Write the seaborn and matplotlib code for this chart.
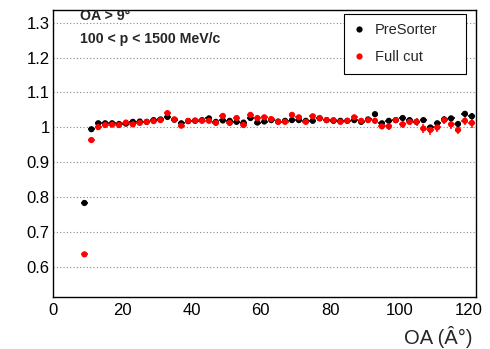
import matplotlib
matplotlib.use("Agg")
import numpy as np
import pandas as pd
import matplotlib.pyplot as plt
import seaborn as sns
from matplotlib.ticker import MultipleLocator, FuncFormatter

# ---------------- data ----------------
oa = list(range(9, 122, 2))

presorter = [0.784, 0.995, 1.012, 1.012, 1.012, 1.010, 1.011, 1.016, 1.017, 1.016,
             1.021, 1.023, 1.030, 1.022, 1.012, 1.018, 1.019, 1.021, 1.026, 1.016,
             1.020, 1.019, 1.016, 1.014, 1.027, 1.014, 1.017, 1.021, 1.017, 1.019,
             1.021, 1.021, 1.019, 1.019, 1.026, 1.021, 1.019, 1.019, 1.019, 1.021,
             1.016, 1.023, 1.038, 1.012, 1.019, 1.021, 1.027, 1.021, 1.016, 1.021,
             1.000, 1.012, 1.023, 1.026, 1.010, 1.039, 1.032]
presorter_err = [0.003, 0.002, 0.002, 0.002, 0.002, 0.002, 0.002, 0.002, 0.002, 0.002,
                 0.002, 0.002, 0.003, 0.002, 0.002, 0.002, 0.003, 0.003, 0.003, 0.003,
                 0.003, 0.003, 0.003, 0.003, 0.003, 0.003, 0.003, 0.003, 0.003, 0.003,
                 0.003, 0.003, 0.003, 0.003, 0.003, 0.003, 0.004, 0.004, 0.004, 0.004,
                 0.004, 0.004, 0.005, 0.005, 0.005, 0.005, 0.006, 0.006, 0.006, 0.007,
                 0.007, 0.007, 0.008, 0.008, 0.008, 0.009, 0.009]

fullcut = [0.637, 0.964, 1.001, 1.007, 1.008, 1.007, 1.014, 1.009, 1.013, 1.016,
           1.018, 1.021, 1.041, 1.023, 1.005, 1.019, 1.020, 1.019, 1.019, 1.013,
           1.033, 1.013, 1.027, 1.007, 1.036, 1.027, 1.029, 1.024, 1.016, 1.016,
           1.036, 1.029, 1.016, 1.032, 1.027, 1.021, 1.021, 1.016, 1.019, 1.029,
           1.019, 1.021, 1.019, 1.003, 1.003, 1.021, 1.009, 1.016, 1.016, 0.997,
           0.993, 1.000, 1.021, 1.009, 0.993, 1.019, 1.013]
fullcut_err = [0.003, 0.003, 0.003, 0.003, 0.003, 0.003, 0.003, 0.003, 0.003, 0.003,
               0.003, 0.004, 0.005, 0.004, 0.004, 0.004, 0.004, 0.004, 0.005, 0.005,
               0.005, 0.005, 0.005, 0.005, 0.005, 0.005, 0.005, 0.005, 0.005, 0.005,
               0.006, 0.006, 0.006, 0.006, 0.006, 0.006, 0.007, 0.007, 0.007, 0.007,
               0.007, 0.008, 0.008, 0.008, 0.009, 0.009, 0.010, 0.010, 0.011, 0.012,
               0.014, 0.012, 0.012, 0.013, 0.012, 0.013, 0.014]

series_names = ["PreSorter", "Full cut"]
colors = {"PreSorter": "#000000", "Full cut": "#ff0000"}

df = pd.DataFrame({
    "OA": oa + oa,
    "ratio": presorter + fullcut,
    "err": presorter_err + fullcut_err,
    "series": [series_names[0]] * len(oa) + [series_names[1]] * len(oa),
})

# ---------------- style ----------------
sns.set_theme(style="white")
plt.rcParams["font.family"] = ["Liberation Sans", "DejaVu Sans"]

W, H = 490, 349
fig = plt.figure(figsize=(W / 100, H / 100), dpi=100)
left, right, top, bottom = 53.3, 476.0, 10.0, 297.0
ax = fig.add_axes([left / W, 1 - bottom / H, (right - left) / W, (bottom - top) / H])

# error bars
for name in series_names:
    sub = df[df["series"] == name]
    ax.errorbar(sub["OA"], sub["ratio"], yerr=sub["err"], xerr=1.0, fmt="none",
                ecolor=colors[name], elinewidth=1.1, capsize=0, zorder=2)

sns.scatterplot(data=df, x="OA", y="ratio", hue="series", palette=colors,
                hue_order=series_names, s=20, linewidth=0, ax=ax, zorder=3)

ax.set_xlim(0, 122.2)
ax.set_ylim(0.515, 1.336)

ax.xaxis.set_major_locator(MultipleLocator(20))
ax.xaxis.set_minor_locator(MultipleLocator(5))
ax.yaxis.set_major_locator(MultipleLocator(0.1))
ax.yaxis.set_minor_locator(MultipleLocator(0.02))
ax.yaxis.set_major_formatter(FuncFormatter(lambda v, p: f"{v:g}"))

ax.tick_params(which="both", direction="in", top=False, right=False,
               colors="black", labelsize=12)
ax.tick_params(which="major", length=5.8, width=0.8)
ax.tick_params(which="minor", length=2.9, width=0.8)
ax.tick_params(axis="x", pad=4)
ax.tick_params(axis="y", pad=2.5)

ax.yaxis.grid(True, which="major", linestyle=(0, (1, 2)), color="#888888", lw=0.8)
ax.xaxis.grid(False)
ax.set_axisbelow(True)

for sp in ax.spines.values():
    sp.set_color("black")
    sp.set_linewidth(1.0)

ax.set_ylabel("")
ax.set_xlabel("OA (Â°)", fontsize=14.5)
ax.xaxis.set_label_coords((472 - left) / (right - left), (bottom - 337) / (bottom - top))
ax.xaxis.label.set_ha("right")
ax.xaxis.label.set_va("center")

# annotation texts
ax.text((80 - left) / (right - left), (bottom - 15.5) / (bottom - top), "OA > 9°",
        transform=ax.transAxes, fontsize=10.2, fontweight="bold", va="center", ha="left")
ax.text((80 - left) / (right - left), (bottom - 38.5) / (bottom - top), "100 < p < 1500 MeV/c",
        transform=ax.transAxes, fontsize=10.2, fontweight="bold", va="center", ha="left")

# legend
lx0 = (344.3 - left) / (right - left)
lx1 = (465.7 - left) / (right - left)
ly1 = (bottom - 14.3) / (bottom - top)
sns.move_legend(ax, loc="upper left", bbox_to_anchor=(lx0, ly1 - 0.2, lx1 - lx0, 0.2),
                mode="expand", title=None, frameon=True, fancybox=False,
                edgecolor="black", framealpha=1, fontsize=10.5, borderpad=0.62,
                labelspacing=0.9, handlelength=0.8, handletextpad=0.7,
                borderaxespad=0, markerscale=1.0)
leg = ax.get_legend()
leg.get_frame().set_linewidth(0.8)

fig.savefig("out.png", dpi=100)
